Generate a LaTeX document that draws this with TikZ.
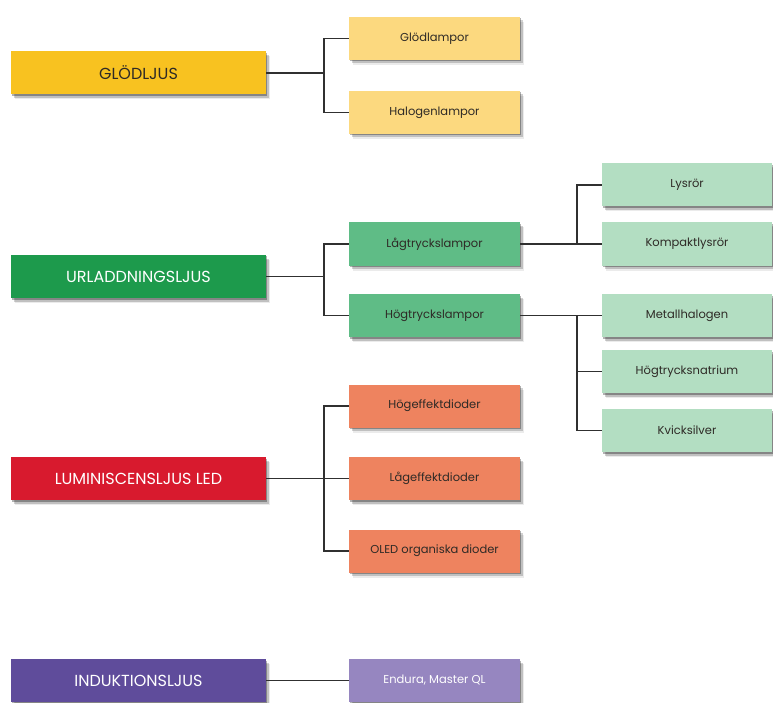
\documentclass[tikz,border=0pt]{standalone}
\usepackage{fontspec}
\setmainfont{Poppins}
\usetikzlibrary{shadows}
\definecolor{glodA}{HTML}{F8C220}
\definecolor{glodB}{HTML}{FCD97F}
\definecolor{urlA}{HTML}{1D9A4C}
\definecolor{urlB}{HTML}{5FBC86}
\definecolor{urlC}{HTML}{B3DEC2}
\definecolor{ledA}{HTML}{D81A2E}
\definecolor{ledB}{HTML}{EE835F}
\definecolor{indA}{HTML}{5F4C9B}
\definecolor{indB}{HTML}{9686C0}
\definecolor{wire}{HTML}{303030}
\definecolor{ink}{HTML}{2E2A26}
\tikzset{
  softshadow/.style={
    drop shadow={shadow xshift=1pt, shadow yshift=-1.5pt, opacity=0.30, fill=black},
    drop shadow={shadow xshift=2.5pt, shadow yshift=-3.5pt, opacity=0.18, fill=black},
    drop shadow={shadow xshift=3.5pt, shadow yshift=-5pt, opacity=0.08, fill=black}},
  mainbox/.style={softshadow, rectangle, inner sep=0pt, minimum width=255pt,
    minimum height=43pt, font=\fontsize{16}{19}\selectfont, text=white},
  subbox/.style={softshadow, rectangle, inner sep=0pt, minimum width=171pt,
    minimum height=43pt, font=\fontsize{11.5}{14}\selectfont, text=ink},
  leafbox/.style={subbox, minimum width=170pt},
  wireline/.style={draw=wire, line width=1.3pt}
}
\begin{document}
\begin{tikzpicture}[x=1pt, y=-1pt]
\useasboundingbox (0,0) rectangle (773,703);
\fill[white] (0,0) rectangle (773,703);

% main categories
\node[mainbox, fill=glodA, text=ink] (glod) at (138.5,73) {GLÖDLJUS};
\node[mainbox, fill=urlA] (url) at (138.5,276.5) {URLADDNINGSLJUS};
\node[mainbox, fill=ledA] (led) at (138.5,478.5) {LUMINISCENSLJUS LED};
\node[mainbox, fill=indA] (ind) at (138.5,680.5) {INDUKTIONSLJUS};

% first level
\node[subbox, fill=glodB] (glodl) at (434.5,38.5) {Glödlampor};
\node[subbox, fill=glodB] (halo) at (434.5,112.5) {Halogenlampor};
\node[subbox, fill=urlB] (lagt) at (434.5,244) {Lågtryckslampor};
\node[subbox, fill=urlB] (hogt) at (434.5,315.5) {Högtryckslampor};
\node[subbox, fill=ledB] (hoge) at (434.5,406) {Högeffektdioder};
\node[subbox, fill=ledB] (lage) at (434.5,478.5) {Lågeffektdioder};
\node[subbox, fill=ledB] (oled) at (434.5,551) {OLED organiska dioder};
\node[subbox, fill=indB, text=white] (endura) at (434.5,680.5) {Endura, Master QL};

% second level
\node[leafbox, fill=urlC] (lysror) at (687,185) {Lysrör};
\node[leafbox, fill=urlC] (kompakt) at (687,244) {Kompaktlysrör};
\node[leafbox, fill=urlC] (metall) at (687,315.5) {Metallhalogen};
\node[leafbox, fill=urlC] (natrium) at (687,371.5) {Högtrycksnatrium};
\node[leafbox, fill=urlC] (kvick) at (687,430.5) {Kvicksilver};

% branch points
\coordinate (bglod) at (324,73);
\coordinate (burl) at (324,276.5);
\coordinate (bled) at (324,478.5);
\coordinate (blag) at (577,244);
\coordinate (bhog) at (577,315.5);

% connectors
\draw[wireline] (glod.east) -- (bglod);
\draw[wireline] (glodl.west) -| (bglod);
\draw[wireline] (halo.west) -| (bglod);

\draw[wireline] (url.east) -- (burl);
\draw[wireline] (lagt.west) -| (burl);
\draw[wireline] (hogt.west) -| (burl);

\draw[wireline] (lagt.east) -- (kompakt.west);
\draw[wireline] (lysror.west) -| (blag);

\draw[wireline] (hogt.east) -- (metall.west);
\draw[wireline] (kvick.west) -| (bhog);
\draw[wireline] (natrium.west) -- (natrium.west -| bhog);

\draw[wireline] (led.east) -- (lage.west);
\draw[wireline] (hoge.west) -| (bled);
\draw[wireline] (oled.west) -| (bled);

\draw[wireline] (ind.east) -- (endura.west);
\end{tikzpicture}
\end{document}
